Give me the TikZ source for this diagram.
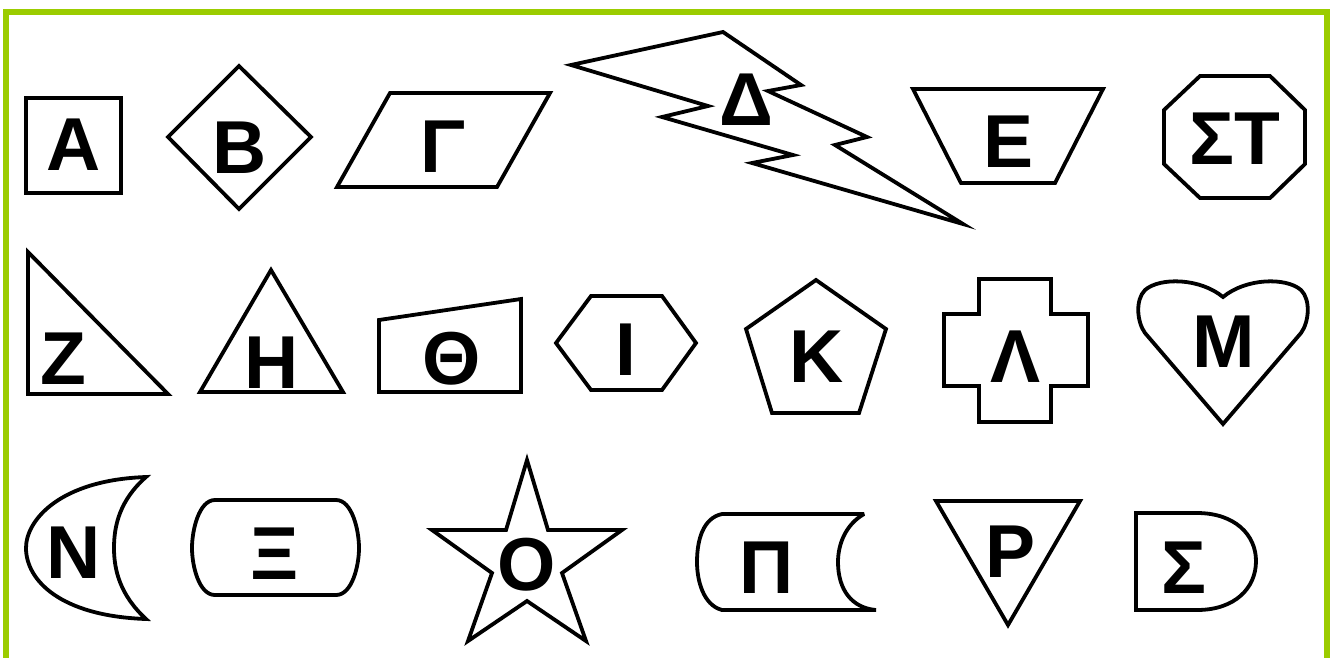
\documentclass[tikz,border=0pt]{standalone}
\usepackage{fontspec}
\setmainfont{Liberation Sans}
\definecolor{framegreen}{RGB}{155,204,0}
\begin{document}
\begin{tikzpicture}[x=1pt,y=-1pt,
  shapeline/.style={draw=black,line width=3.8pt,line join=miter},
  lbl/.style={anchor=base,inner sep=0pt,font=\fontsize{75}{80}\selectfont\bfseries}]
\useasboundingbox (0,0) rectangle (1330,657);
\fill[white] (0,0) rectangle (1330,657);
\draw[framegreen,line width=6pt] (6,660) -- (6,12) -- (1327,12) -- (1327,660);
% Row 1
\draw[shapeline] (26,98) rectangle (121,193);
\node[lbl] (A) at (74,170) {Α};
\draw[shapeline] (239,66) -- (311,137) -- (239,209) -- (168,137) -- cycle;
\node[lbl] (B) at (240,173) {Β};
\draw[shapeline] (390,93) -- (550,93) -- (497,187) -- (337,187) -- cycle;
\node[lbl] (G) at (443,172) {Γ};
\draw[shapeline] (571,65) -- (723,32) -- (801,85) -- (768,91) -- (867,137) -- (835,145) -- (963,224) -- (752,163) -- (793,155) -- (662,117) -- (708,106) -- cycle;
\node[lbl] (D) at (746,125) {Δ};
\draw[shapeline] (913,89) -- (1103,89) -- (1055,183) -- (961,183) -- cycle;
\node[lbl] (E) at (1008,167) {Ε};
\draw[shapeline] (1200,76) -- (1270,76) -- (1305,110) -- (1305,164) -- (1270,198) -- (1200,198) -- (1164,164) -- (1164,110) -- cycle;
\node[lbl] (ST) at (1235,164) {ΣΤ};
% Row 2
\draw[shapeline] (28,252) -- (28,394) -- (168,394) -- cycle;
\node[lbl] (Z) at (63,384) {Ζ};
\draw[shapeline] (271,270) -- (343,392) -- (200,392) -- cycle;
\node[lbl] (H) at (272,388) {Η};
\draw[shapeline] (379,320) -- (521,299) -- (521,392) -- (379,392) -- cycle;
\node[lbl] (TH) at (452,384) {Θ};
\draw[shapeline] (591,296) -- (662,296) -- (696,343) -- (662,390) -- (591,390) -- (556,343) -- cycle;
\node[lbl] (I) at (626,375) {Ι};
\draw[shapeline] (816,280) -- (886,329) -- (859,413) -- (772,413) -- (746,329) -- cycle;
\node[lbl] (K) at (817,382) {Κ};
\draw[shapeline] (979,279) -- (1051,279) -- (1051,314) -- (1088,314) -- (1088,386) -- (1051,386) -- (1051,422) -- (979,422) -- (979,386) -- (944,386) -- (944,314) -- (979,314) -- cycle;
\node[lbl] (L) at (1015,382) {Λ};
\draw[shapeline] (1223,297) .. controls (1200,278) and (1160,277) .. (1145,290) .. controls (1135,300) and (1137,322) .. (1145,333) -- (1223,424) -- (1301,333) .. controls (1309,322) and (1311,300) .. (1301,290) .. controls (1286,277) and (1246,278) .. cycle;
\node[lbl] (M) at (1224,367) {Μ};
% Row 3
\draw[shapeline] (146,477) .. controls (60,480) and (26,520) .. (26,548) .. controls (26,580) and (60,616) .. (146,619) .. controls (120,595) and (114,570) .. (114,548) .. controls (114,525) and (120,500) .. cycle;
\node[lbl] (N) at (74,578) {Ν};
\draw[shapeline] (215,500) -- (336,500) .. controls (352,500) and (359,530) .. (359,548) .. controls (359,566) and (352,595) .. (336,595) -- (215,595) .. controls (199,595) and (192,566) .. (192,548) .. controls (192,530) and (199,500) .. cycle;
\node[lbl] (X) at (275,579) {Ξ};
\draw[shapeline] (527,460) -- (548,530) -- (622,530) -- (562,573) -- (586,641) -- (527,601) -- (468,641) -- (492,573) -- (432,530) -- (506,530) -- cycle;
\node[lbl] (O) at (527,590) {Ο};
\draw[shapeline,line join=bevel] (722,514) -- (864,514) .. controls (845,525) and (838,545) .. (838,562) .. controls (838,590) and (852,608) .. (876,610) -- (722,610) .. controls (703,605) and (697,580) .. (697,562) .. controls (697,540) and (703,518) .. cycle;
\node[lbl] (P) at (767,593) {Π};
\draw[shapeline] (936,501) -- (1080,501) -- (1008,625) -- cycle;
\node[lbl] (R) at (1010,577) {Ρ};
\draw[shapeline] (1136,513) -- (1197,513) .. controls (1235,513) and (1256,535) .. (1256,561) .. controls (1256,588) and (1235,610) .. (1197,610) -- (1136,610) -- cycle;
\node[lbl] (S) at (1184,593) {Σ};
\end{tikzpicture}
\end{document}
